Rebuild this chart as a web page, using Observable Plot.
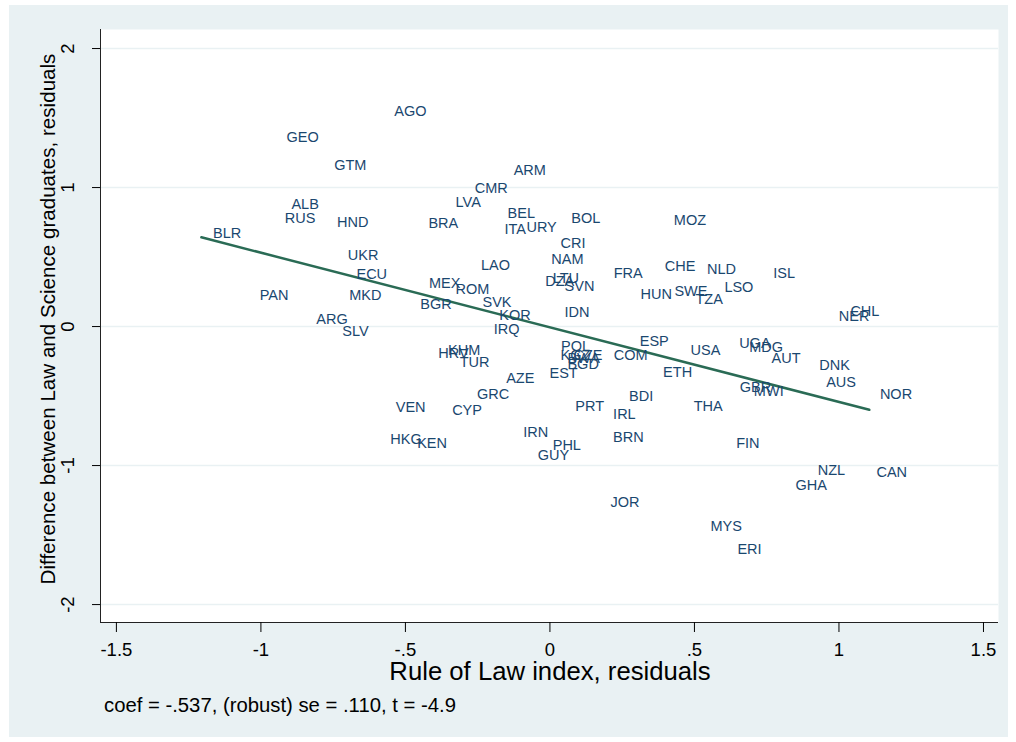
<!DOCTYPE html>
<html><head><meta charset="utf-8">
<script src="https://cdn.jsdelivr.net/npm/d3@7"></script>
<script src="https://cdn.jsdelivr.net/npm/@observablehq/plot@0.6"></script>
<style>
body{margin:0;background:#fff;font-family:"Liberation Sans",Arial,sans-serif;}
#wrap{position:relative;width:1016px;height:742px;overflow:hidden;}
#panel{position:absolute;left:9px;top:5px;width:999px;height:732px;background:#e9f1f3;}
#chart{position:absolute;left:0;top:0;}
.t{position:absolute;color:#000;white-space:nowrap;line-height:1;}
#xt{left:550px;top:672px;font-size:25.7px;transform:translate(-50%,-50%);}
#yt{left:48px;top:319px;font-size:20.6px;transform-origin:0 0;transform:rotate(-90deg) translate(-50%,-50%);}
#cap{left:104px;top:705px;font-size:20.3px;transform:translateY(-50%);}
</style></head><body>
<div id="wrap"><div id="panel"></div><div id="chart"></div>
<div class="t" id="xt">Rule of Law index, residuals</div>
<div class="t" id="yt">Difference between Law and Science graduates, residuals</div>
<div class="t" id="cap">coef = -.537, (robust) se = .110, t = -4.9</div>
</div>
<script>
// Country codes and their residuals
const countries = ["AGO","GEO","GTM","ALB","RUS","HND","BRA","BLR","UKR","ECU","LVA","MEX","ARM","CMR","BEL","ITA","URY","BOL","CRI","NAM","LAO","FRA","LTU","DZA","SVN","ROM","BGR","SVK","KOR","IDN","IRQ","HUN","ESP","MOZ","CHE","NLD","ISL","SWE","TZA","LSO","NER","CHL","PAN","MKD","ARG","SLV","HRV","KHM","TUR","POL","KGZ","BWA","CZE","BGD","COM","ETH","AZE","EST","GRC","VEN","CYP","PRT","BDI","IRL","HKG","KEN","IRN","PHL","GUY","BRN","USA","UGA","MDG","AUT","DNK","AUS","NOR","GBR","MWI","THA","FIN","NZL","CAN","GHA","JOR","MYS","ERI"];
const ruleOfLaw = [-0.573,-0.946,-0.781,-0.929,-0.952,-0.771,-0.455,-1.200,-0.734,-0.704,-0.361,-0.453,-0.160,-0.295,-0.181,-0.192,-0.116,0.039,0.002,-0.030,-0.273,0.186,-0.025,-0.051,0.016,-0.361,-0.483,-0.268,-0.210,0.016,-0.229,0.279,0.276,0.394,0.363,0.509,0.738,0.396,0.469,0.569,0.965,1.005,-1.039,-0.729,-0.843,-0.753,-0.421,-0.387,-0.347,0.004,0.002,0.026,0.047,0.026,0.186,0.357,-0.186,-0.036,-0.287,-0.568,-0.373,0.053,0.239,0.184,-0.587,-0.494,-0.127,-0.025,-0.077,0.184,0.452,0.620,0.655,0.732,0.897,0.921,1.107,0.622,0.671,0.463,0.610,0.892,1.095,0.815,0.175,0.521,0.614];
const lawScienceDiff = [1.549,1.362,1.158,0.878,0.779,0.748,0.743,0.671,0.513,0.379,0.892,0.313,1.122,0.995,0.811,0.696,0.714,0.779,0.595,0.480,0.437,0.383,0.350,0.326,0.288,0.264,0.163,0.175,0.079,0.103,-0.018,0.232,-0.110,0.763,0.434,0.412,0.386,0.254,0.196,0.283,0.072,0.110,0.228,0.228,0.050,-0.034,-0.192,-0.173,-0.257,-0.146,-0.209,-0.230,-0.205,-0.270,-0.204,-0.333,-0.372,-0.338,-0.491,-0.581,-0.604,-0.573,-0.501,-0.635,-0.808,-0.840,-0.760,-0.856,-0.928,-0.796,-0.173,-0.124,-0.153,-0.228,-0.276,-0.405,-0.491,-0.437,-0.468,-0.573,-0.837,-1.036,-1.048,-1.144,-1.266,-1.439,-1.604];
// Fitted line end points
const fitX = [-1.206, 1.105];
const fitY = [0.642, -0.599];
// Axes
const xTicks = [-1.5,-1,-0.5,0,0.5,1,1.5];
const xTickLabels = ["-1.5","-1","-.5","0",".5","1","1.5"];
const yTicks = [2,1,0,-1,-2];
const yTickLabels = ["2","1","0","-1","-2"];
const xDomain = [-1.555, 1.552];
const yDomain = [-2.129, 2.137];

const data = countries.map((c,i)=>({c, x: ruleOfLaw[i], y: lawScienceDiff[i]}));
const fit = fitX.map((x,i)=>({x, y: fitY[i]}));
const xLab = new Map(xTicks.map((t,i)=>[t, xTickLabels[i]]));
const yLab = new Map(yTicks.map((t,i)=>[t, yTickLabels[i]]));
const navy = "#1a476f", green = "#2a6b55", grid = "#e9f1f3";

const plot = Plot.plot({
  width: 1016, height: 742,
  marginLeft: 100, marginRight: 18, marginTop: 29, marginBottom: 120,
  style: {background: "transparent", fontFamily: "'Liberation Sans', Arial, sans-serif", color: "#000"},
  x: {domain: xDomain},
  y: {domain: yDomain},
  marks: [
    Plot.frame({fill: "white", stroke: "none"}),
    Plot.gridY(yTicks, {stroke: grid, strokeOpacity: 1, strokeWidth: 1.5}),
    Plot.ruleX([xDomain[0]], {stroke: "#222", strokeWidth: 1}),
    Plot.ruleY([yDomain[0]], {stroke: "#222", strokeWidth: 1}),
    Plot.axisX(xTicks, {tickSize: 10, tickPadding: 10, fontSize: 18.5, tickFormat: d => xLab.get(d), label: null}),
    Plot.axisY(yTicks, {tickSize: 8, tickPadding: 19, tickRotate: -90, fontSize: 18.5, tickFormat: d => yLab.get(d), label: null}),
    Plot.line(fit, {x: "x", y: "y", stroke: green, strokeWidth: 2.5}),
    Plot.text(data, {x: "x", y: "y", text: "c", textAnchor: "start", dx: 10, fill: navy, fontSize: 14.5})
  ]
});
document.getElementById("chart").appendChild(plot);
</script>
</body></html>
